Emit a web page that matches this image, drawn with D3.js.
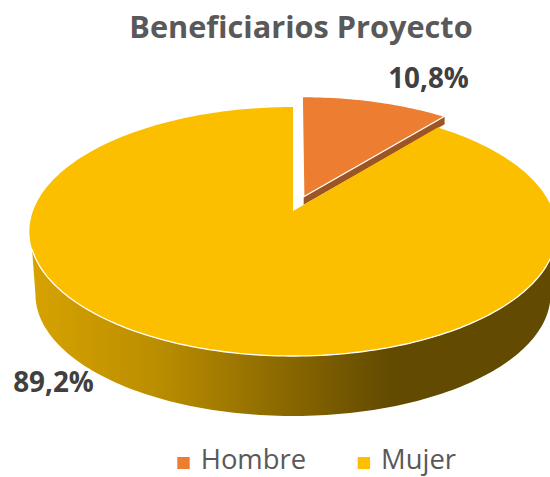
<!DOCTYPE html>
<html><head><meta charset="utf-8">
<script src="https://cdn.jsdelivr.net/npm/d3@7"></script>
<style>html,body{margin:0;padding:0;background:#fff}svg{display:block}text{font-family:"Open Sans",sans-serif}</style>
</head><body><svg id="c" width="550" height="477"></svg>
<script>
const categories = ["Hombre", "Mujer"];
const values = [10.8, 89.2];
const valueLabels = ["10,8%", "89,2%"];
const colors = ["#ED7D31", "#FBBF00"];

const svg = d3.select("#c");
const cx = 293, cy = 211, R = 260, A = 121.1, B = -0.165;
const project = (u, v, s = 1, y0 = cy) => {
  const d = 1 + B * v;
  return [cx + s * R * u / d, y0 + s * A * v / d];
};
const polar = (t, r = 1, du = 0, dv = 0) => [r * Math.sin(t) + du, -r * Math.cos(t) + dv];
const line = d3.line();
const angles = d3.pie().sort(null).value(d => d)(values);
const arcPts = (a0, a1, du, dv, s, y0) => {
  const n = Math.max(4, Math.ceil((a1 - a0) / 0.02));
  return d3.range(n + 1).map(i => {
    const t = a0 + (a1 - a0) * i / n;
    const [u, v] = polar(t, 1, du, dv);
    return project(u, v, s, y0);
  });
};

const defs = svg.append("defs");
const grad = defs.append("linearGradient").attr("id", "side")
  .attr("gradientUnits", "userSpaceOnUse").attr("x1", 30).attr("x2", 390).attr("y1", 0).attr("y2", 0);
grad.append("stop").attr("offset", 0).attr("stop-color", "#D8A300");
grad.append("stop").attr("offset", 0.35).attr("stop-color", "#BB8E00");
grad.append("stop").attr("offset", 1).attr("stop-color", "#624A00");

// exploded slice: cut face, then top
const expU = 0.042, expV = -0.12, wedgeDepth = 8;
const s0 = angles[0];
const apex = project(expU, expV);
const wedgeArc = arcPts(s0.startAngle, s0.endAngle, expU, expV, 1, cy);
const corner = wedgeArc[wedgeArc.length - 1];
svg.append("path")
  .attr("d", line([apex, corner, [corner[0], corner[1] + wedgeDepth], [apex[0], apex[1] + wedgeDepth]]) + "Z")
  .attr("fill", "#9C5523");
svg.append("path")
  .attr("d", line([apex, ...wedgeArc]) + "Z")
  .attr("fill", colors[0]).attr("stroke", "#fff").attr("stroke-width", 1.4).attr("stroke-linejoin", "round");

// main slice: side wall, then top, then the lit front rim
const s1 = angles[1];
const lowS = 0.977, lowY = 274.3;
const topOff = 0.305, lowOff = 0.166;
const topRim = arcPts(Math.PI / 2 + topOff, Math.PI * 1.5 - topOff, 0, 0, 1, cy);
const lowRim = arcPts(Math.PI / 2 + lowOff, Math.PI * 1.5 - lowOff, 0, 0, lowS, lowY).reverse();
svg.append("path")
  .attr("d", line([...topRim, ...lowRim]) + "Z")
  .attr("fill", "url(#side)");
const o = project(0, 0);
svg.append("path")
  .attr("d", line([o, ...arcPts(s1.startAngle, s1.endAngle, 0, 0, 1, cy)]) + "Z")
  .attr("fill", colors[1]);
svg.append("path")
  .attr("d", line(topRim))
  .attr("fill", "none").attr("stroke", "#fff").attr("stroke-width", 1.3);

// text
svg.append("text").attr("x", 301).attr("y", 38).attr("text-anchor", "middle")
  .attr("font-size", 30.7).attr("font-weight", 700).attr("fill", "#595959").text("Beneficiarios Proyecto");
svg.append("text").attr("x", 428.5).attr("y", 88).attr("text-anchor", "middle")
  .attr("font-size", 27.8).attr("font-weight", 700).attr("fill", "#404040").text(valueLabels[0]);
svg.append("text").attr("x", 53.5).attr("y", 392).attr("text-anchor", "middle")
  .attr("font-size", 27.8).attr("font-weight", 700).attr("fill", "#404040").text(valueLabels[1]);

// legend
const legendX = d3.scaleOrdinal().domain(categories).range([177.3, 357.7]);
const lg = svg.append("g").selectAll("g").data(categories).join("g")
  .attr("transform", d => `translate(${legendX(d)},0)`);
lg.append("rect").attr("y", 457).attr("width", 12.4).attr("height", 12).attr("fill", (d, i) => colors[i]);
lg.append("text").attr("x", 23.4).attr("y", 469).attr("font-size", 27.4).attr("fill", "#595959").text(d => d);
</script></body></html>
